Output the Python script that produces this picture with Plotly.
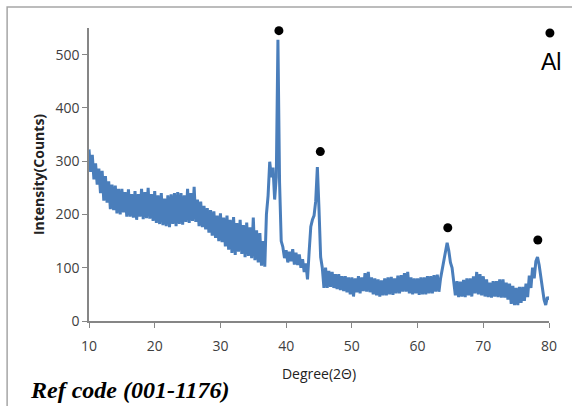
import plotly.graph_objects as go

# 2-theta grid: 10.00 .. 80.00 in 0.25 steps
x_start, x_step = 10.0, 0.25
intensity = [
    322, 280, 312, 266,   # 10
    296, 256, 286, 240,   # 11
    282, 226, 272, 222,   # 12
    262, 210, 256, 208,   # 13
    254, 202, 248, 200,   # 14
    248, 204, 242, 196,   # 15
    247, 196, 238, 194,   # 16
    244, 190, 238, 196,   # 17
    248, 191, 242, 193,   # 18
    250, 192, 238, 188,   # 19
    244, 184, 236, 182,   # 20
    240, 180, 230, 178,   # 21
    236, 176, 238, 182,   # 22
    240, 178, 242, 182,   # 23
    240, 181, 236, 186,   # 24
    248, 184, 240, 188,   # 25
    252, 186, 228, 178,   # 26
    224, 176, 216, 172,   # 27
    212, 166, 208, 160,   # 28
    206, 156, 198, 150,   # 29
    202, 148, 194, 140,   # 30
    198, 134, 190, 128,   # 31
    195, 124, 184, 130,   # 32
    190, 126, 180, 120,   # 33
    185, 122, 176, 118,   # 34
    194, 114, 170, 110,   # 35
    165, 104, 150, 102,   # 36
    200, 235, 299, 270,   # 37
    288, 228, 270, 528,   # 38
    260, 150, 139, 118,   # 39
    133, 110, 130, 112,   # 40
    135, 106, 128, 105,   # 41
    125, 100, 116, 92,    # 42
    108, 78, 130, 177,    # 43
    190, 198, 225, 289,   # 44
    210, 120, 100, 62,    # 45
    100, 62, 94, 64,      # 46
    92, 62, 88, 60,       # 47
    88, 58, 84, 56,       # 48
    84, 54, 82, 50,       # 49
    82, 46, 80, 54,       # 50
    84, 52, 82, 56,       # 51
    90, 55, 92, 54,       # 52
    82, 50, 80, 48,       # 53
    78, 46, 76, 48,       # 54
    80, 48, 82, 50,       # 55
    83, 49, 80, 52,       # 56
    85, 52, 86, 55,       # 57
    90, 55, 92, 52,       # 58
    82, 50, 80, 52,       # 59
    80, 49, 82, 50,       # 60
    82, 50, 84, 52,       # 61
    84, 52, 86, 55,       # 62
    87, 55, 80, 95,       # 63
    110, 125, 147, 132,   # 64
    110, 100, 75, 48,     # 65
    75, 45, 74, 46,       # 66
    77, 45, 80, 48,       # 67
    80, 46, 84, 52,       # 68
    92, 50, 88, 48,       # 69
    84, 46, 78, 45,       # 70
    72, 44, 75, 46,       # 71
    75, 45, 78, 44,       # 72
    78, 44, 72, 40,       # 73
    70, 32, 66, 30,       # 74
    62, 30, 64, 34,       # 75
    64, 38, 70, 45,       # 76
    85, 62, 100, 80,      # 77
    112, 120, 105, 85,    # 78
    60, 40, 30, 45,       # 79
    40,                   # 80
]
two_theta = [x_start + i * x_step for i in range(len(intensity))]

# Al peak markers
marker_x = [38.9, 45.2, 64.6, 78.3]
marker_y = [545, 318, 175, 152]

fig = go.Figure()
fig.add_trace(go.Scatter(x=two_theta, y=intensity, mode="lines",
                         line=dict(color="#4a7ebb", width=3), showlegend=False))
fig.add_trace(go.Scatter(x=marker_x, y=marker_y, mode="markers",
                         marker=dict(color="black", size=9), cliponaxis=False,
                         showlegend=False))

# key: dot + "Al" (top right, just outside the plot area)
kx, ky, r = 1.002, 0.983, 4.5
fig.add_shape(type="circle", xref="paper", yref="paper",
              x0=kx - r / 460, x1=kx + r / 460, y0=ky - r / 293, y1=ky + r / 293,
              fillcolor="black", line=dict(width=0))
fig.add_annotation(x=1.004, y=0.884, xref="paper", yref="paper", text="Al", showarrow=False,
                   xanchor="center", yanchor="middle",
                   font=dict(family="Liberation Sans", size=23, color="black"))
fig.add_annotation(x=-0.132, y=-0.235, xref="paper", yref="paper",
                   text="<b><i>Ref code (001-1176)</i></b>", showarrow=False,
                   xanchor="left", yanchor="middle",
                   font=dict(family="Liberation Serif", size=24, color="black"))

fig.add_shape(type="rect", xref="paper", yref="paper",
              x0=-0.178, x1=1.2, y0=-0.4, y1=1.0717,
              line=dict(color="#a6a6a6", width=1.5))

fig.update_layout(
    width=572, height=406,
    margin=dict(l=89, r=23, t=28, b=85),
    paper_bgcolor="white", plot_bgcolor="white",
    font=dict(family="Open Sans", color="#333333"),
    xaxis=dict(range=[10, 80], tick0=10, dtick=10, showgrid=False, zeroline=False,
               showline=True, linecolor="#868686", linewidth=1.5,
               ticks="outside", ticklen=5, tickcolor="#868686", ticklabelstandoff=6,
               tickfont=dict(size=14, color="#404040"),
               title=dict(text="Degree(2Θ)", font=dict(size=14, color="#222222"), standoff=16)),
    yaxis=dict(range=[0, 550], tick0=0, dtick=100, showgrid=False, zeroline=False,
               showline=True, linecolor="#868686", linewidth=1.5,
               ticks="outside", ticklen=5, tickcolor="#868686",
               tickfont=dict(size=14, color="#404040"),
               title=dict(text="<b>Intensity(Counts)</b>", font=dict(size=14, color="#222222"),
                          standoff=8)),
)

fig.write_html("out.html")
